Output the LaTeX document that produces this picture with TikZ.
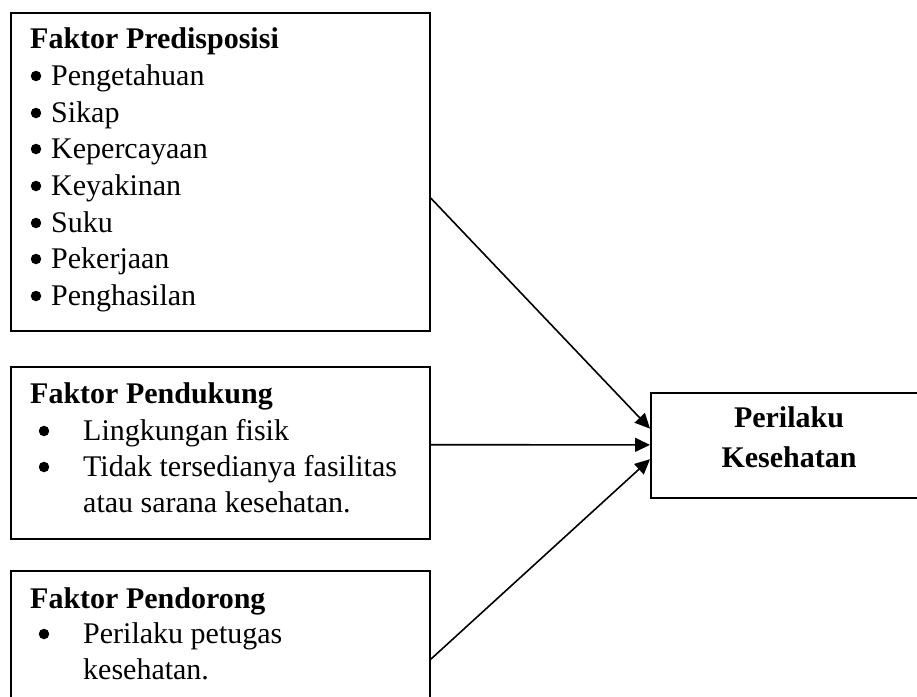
\documentclass[tikz,border=0pt]{standalone}
\usepackage{fontspec}
\setmainfont{Liberation Serif}
\usetikzlibrary{arrows.meta,calc}
\begin{document}
\begin{tikzpicture}[x=1pt,y=-1pt,
  box/.style={draw, line width=1.8pt, rectangle, inner sep=0pt, anchor=north west},
  txt/.style={anchor=base west, inner sep=0pt, font=\fontsize{30}{36}\selectfont},
  btxt/.style={anchor=base west, inner sep=0pt, font=\fontsize{30}{36}\selectfont\bfseries},
  ctxt/.style={anchor=base, inner sep=0pt, font=\fontsize{30}{36}\selectfont\bfseries},
  dot/.style={circle, fill=black, inner sep=0pt, minimum size=10.5pt},
  conn/.style={line width=1.6pt, -{Triangle[length=15pt,width=14pt]}}]
\useasboundingbox (0,0) rectangle (917,696);
\clip (0,0) rectangle (917,696);
\fill[white] (0,0) rectangle (917,696);
% boxes
\node[box, minimum width=419pt, minimum height=318pt] (b1) at (10,12) {};
\node[box, minimum width=419pt, minimum height=172pt] (b2) at (10,366) {};
\node[box, minimum width=419pt, minimum height=140pt] (b3) at (10,570) {};
\node[box, minimum width=290pt, minimum height=105pt] (P) at (650,392) {};
% box 1 text
\node[btxt] (t1) at (30,48) {Faktor Predisposisi};
\node[dot] (d1a) at (36,76) {};  \node[txt] (t1a) at (51,85) {Pengetahuan};
\node[dot] (d1b) at (36,113) {}; \node[txt] (t1b) at (51,122) {Sikap};
\node[dot] (d1c) at (36,149) {}; \node[txt] (t1c) at (51,158) {Kepercayaan};
\node[dot] (d1d) at (36,186) {}; \node[txt] (t1d) at (51,195) {Keyakinan};
\node[dot] (d1e) at (36,223) {}; \node[txt] (t1e) at (51,232) {Suku};
\node[dot] (d1f) at (36,259) {}; \node[txt] (t1f) at (51,268) {Pekerjaan};
\node[dot] (d1g) at (36,296) {}; \node[txt] (t1g) at (51,305) {Penghasilan};
% box 2 text
\node[btxt] (t2) at (30,403) {Faktor Pendukung};
\node[dot] (d2a) at (44,431) {}; \node[txt] (t2a) at (83,440) {Lingkungan fisik};
\node[dot] (d2b) at (44,467) {}; \node[txt] (t2b) at (83,476) {Tidak tersedianya fasilitas};
\node[txt] (t2c) at (83,512) {atau sarana kesehatan.};
% box 3 text
\node[btxt] (t3) at (30,608) {Faktor Pendorong};
\node[dot] (d3a) at (44,634) {}; \node[txt] (t3a) at (83,643) {Perilaku petugas};
\node[txt] (t3b) at (83,679) {kesehatan.};
% target text
\node[ctxt] (p1) at (789,427) {Perilaku};
\node[ctxt] (p2) at (789,467) {Kesehatan};
% connector end points
\coordinate (s1) at ($(b1.north east)!0.582!(b1.south east)$);
\coordinate (s2) at ($(b2.north east)!0.453!(b2.south east)$);
\coordinate (s3) at ($(b3.north east)!0.629!(b3.south east)$);
\coordinate (e1) at ($(P.north west)!0.343!(P.south west)$);
\coordinate (e2) at ($(P.north west)!0.495!(P.south west)$);
\coordinate (e3) at ($(P.north west)!0.629!(P.south west)$);
\draw[conn] (s1) -- (e1);
\draw[conn] (s2) -- (e2);
\draw[conn] (s3) -- (e3);
\end{tikzpicture}
\end{document}
